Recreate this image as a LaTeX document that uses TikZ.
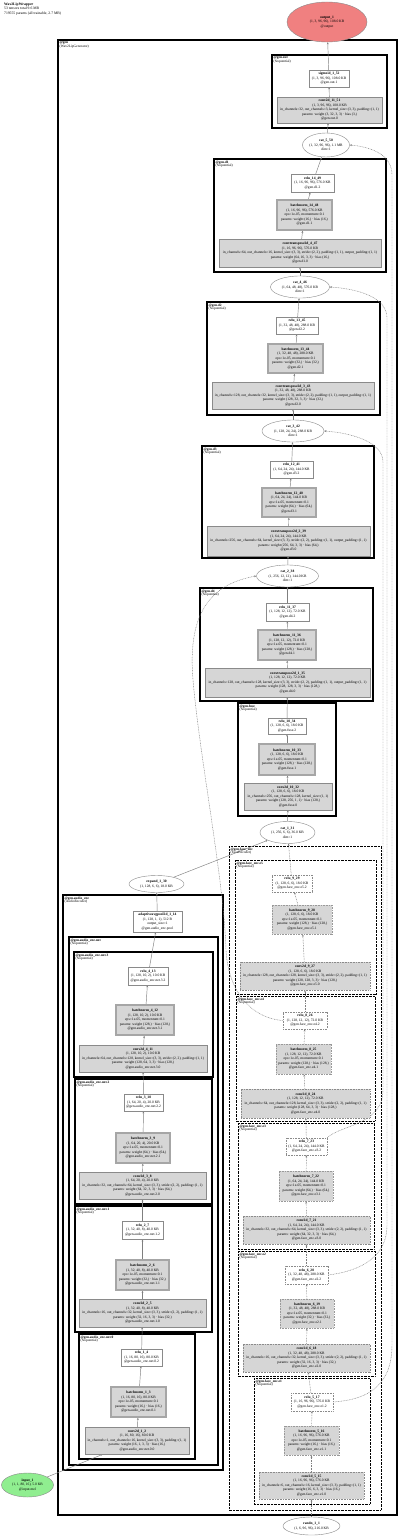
\documentclass[tikz,border=0pt]{standalone}
\usepackage{fontspec}
\setmainfont{Liberation Serif}
\usetikzlibrary{shapes.geometric,arrows.meta}
\definecolor{edgec}{HTML}{7F7F7F}
\definecolor{nodeb}{HTML}{8A8A8A}
\definecolor{opfill}{HTML}{D6D6D6}
\definecolor{outfill}{HTML}{F08080}
\definecolor{infill}{HTML}{90EE90}
\newcommand\fs{\fontsize{3.6}{4.5}\selectfont}
\newcommand\zl[1]{\makebox[0pt]{#1}}
\newcommand\txtB[2]{\zl{\textbf{#1}}\\\zl{#2}}
\newcommand\txtC[3]{\zl{\textbf{#1}}\\\zl{#2}\\\zl{#3}}
\newcommand\txtD[4]{\zl{\textbf{#1}}\\\zl{#2}\\\zl{#3}\\\zl{#4}}
\newcommand\txtE[5]{\zl{\textbf{#1}}\\\zl{#2}\\\zl{#3}\\\zl{#4}\\\zl{#5}}
\pgfdeclarelayer{boxes}
\pgfdeclarelayer{wires}
\pgfsetlayers{boxes,wires,main}
\tikzset{
 nd/.style={rectangle, inner sep=0pt, align=center, font=\fs, draw=nodeb, line width=0.4pt},
 plainnd/.style={nd, fill=white},
 opnd/.style={nd, fill=opfill},
 bnnd/.style={nd, fill=opfill, draw=gray!70, line width=1.4pt},
 dt/.style={dash pattern=on 0.8pt off 0.8pt},
 dplain/.style={plainnd, dt},
 dop/.style={opnd, dt},
 dbn/.style={opnd, draw=gray!80, line width=0.9pt, dash pattern=on 0.9pt off 0.7pt},
 ell/.style={ellipse, inner sep=0pt, align=center, font=\fs, draw=nodeb, line width=0.4pt, fill=white},
 conn/.style={draw=edgec, line width=0.45pt, -{Stealth[length=2.2pt,width=1.8pt]}},
 skip/.style={conn, dt},
 mod/.style={draw=black, line width=1.2pt},
 dmod/.style={draw=black, line width=1pt, dash pattern=on 0.7pt off 0.7pt},
 modlab/.style={anchor=north west, inner sep=0.4pt, align=left, font=\fontsize{3.5}{3.9}\selectfont},
}
\begin{document}
\begin{tikzpicture}[x=1pt,y=-1pt]
\useasboundingbox (0,0) rectangle (400,1536);
\begin{pgfonlayer}{boxes}
\fill[white] (0,0) rectangle (400,1536);
\draw[mod] (58,40) rectangle (397,1515);
\draw[mod] (272,55) rectangle (387,128);
\draw[mod] (214,159) rectangle (386,272);
\draw[mod] (207,302) rectangle (380,415);
\draw[mod] (202,446) rectangle (374,558);
\draw[mod] (200,588) rectangle (373,701);
\draw[mod] (238,703) rectangle (336,816);
\draw[dmod] (229,846) rectangle (381,1510);
\draw[dmod] (235,860) rectangle (376,994);
\draw[dmod] (236,996) rectangle (375,1121);
\draw[dmod] (238,1123) rectangle (374,1249);
\draw[dmod] (238,1251) rectangle (375,1376);
\draw[dmod] (254,1378) rectangle (370,1504);
\draw[mod] (63,895) rectangle (223,1470);
\draw[mod] (69,937) rectangle (218,1465);
\draw[mod] (74,952) rectangle (213,1077);
\draw[mod] (75,1079) rectangle (212,1204);
\draw[mod] (75,1206) rectangle (212,1332);
\draw[mod] (79,1334) rectangle (195,1459);
\end{pgfonlayer}

% header
\node[anchor=north west, inner sep=0pt, align=left, font=\fontsize{3.7}{4.2}\selectfont] (hdr) at (4,3) {\textbf{Wav2LipWrapper}\\53 tensors total 9.6 MB\\719555 params (all trainable, 2.7 MB)};

% module labels
\node[modlab] (Lgen) at (59,41) {\textbf{@gen}\\(Wav2LipGenerator)};
\node[modlab] (Lout) at (273,56) {\textbf{@gen.out}\\(Sequential)};
\node[modlab] (Ld1) at (215,160) {\textbf{@gen.d1}\\(Sequential)};
\node[modlab] (Ld2) at (208,303) {\textbf{@gen.d2}\\(Sequential)};
\node[modlab] (Ld3) at (203,447) {\textbf{@gen.d3}\\(Sequential)};
\node[modlab] (Ld4) at (201,589) {\textbf{@gen.d4}\\(Sequential)};
\node[modlab] (Lfuse) at (239,704) {\textbf{@gen.fuse}\\(Sequential)};
\node[modlab] (Lface) at (230,847) {\textbf{@gen.face\_enc}\\(FaceEncoder)};
\node[modlab] (Le5) at (236,861) {\textbf{@gen.face\_enc.e5}\\(Sequential)};
\node[modlab] (Le4) at (237,997) {\textbf{@gen.face\_enc.e4}\\(Sequential)};
\node[modlab] (Le3) at (239,1124) {\textbf{@gen.face\_enc.e3}\\(Sequential)};
\node[modlab] (Le2) at (239,1252) {\textbf{@gen.face\_enc.e2}\\(Sequential)};
\node[modlab] (Le1) at (255,1379) {\textbf{@gen.face\_enc.e1}\\(Sequential)};
\node[modlab] (Laud) at (64,896) {\textbf{@gen.audio\_enc}\\(AudioEncoder)};
\node[modlab] (Lnet) at (70,938) {\textbf{@gen.audio\_enc.net}\\(Sequential)};
\node[modlab] (Ln3) at (75,953) {\textbf{@gen.audio\_enc.net.3}\\(Sequential)};
\node[modlab] (Ln2) at (76,1080) {\textbf{@gen.audio\_enc.net.2}\\(Sequential)};
\node[modlab] (Ln1) at (76,1207) {\textbf{@gen.audio\_enc.net.1}\\(Sequential)};
\node[modlab] (Ln0) at (80,1335) {\textbf{@gen.audio\_enc.net.0}\\(Sequential)};

% output side
\node[ell, fill=outfill, minimum width=80pt, minimum height=40pt] (out1) at (327,22) {\txtC{output\_1}{(1, 3, 96, 96), 108.0 KB}{@output}};
\node[plainnd, minimum width=40pt, minimum height=17pt] (sig) at (329,78.5) {\txtC{sigmoid\_1\_52}{(1, 3, 96, 96), 108.0 KB}{@gen.out.1}};
\node[opnd, minimum width=105pt, minimum height=26pt] (cv1151) at (329.5,110) {\txtE{conv2d\_11\_51}{(1, 3, 96, 96), 108.0 KB}{in\_channels=32, out\_channels=3, kernel\_size=(3, 3), padding=(1, 1)}{params: weight (3, 32, 3, 3) · bias (3,)}{@gen.out.0}};
\node[ell, minimum width=47pt, minimum height=24pt] (cat550) at (326,145) {\txtC{cat\_5\_50}{(1, 32, 96, 96), 1.1 MB}{dim=1}};

% d1
\node[plainnd, minimum width=43pt, minimum height=18pt] (r1449) at (312.5,183) {\txtC{relu\_14\_49}{(1, 16, 96, 96), 576.0 KB}{@gen.d1.2}};
\node[bnnd, minimum width=55pt, minimum height=30pt] (bn1448) at (304.5,215) {\txtE{batchnorm\_14\_48}{(1, 16, 96, 96), 576.0 KB}{eps=1e-05, momentum=0.1}{params: weight (16,) · bias (16,)}{@gen.d1.1}};
\node[opnd, minimum width=162pt, minimum height=28pt] (ct447) at (300,253) {\txtE{convtranspose2d\_4\_47}{(1, 16, 96, 96), 576.0 KB}{in\_channels=64, out\_channels=16, kernel\_size=(3, 3), stride=(2, 2), padding=(1, 1), output\_padding=(1, 1)}{params: weight (64, 16, 3, 3) · bias (16,)}{@gen.d1.0}};
\node[ell, minimum width=59pt, minimum height=22pt] (cat446) at (300,287) {\txtC{cat\_4\_46}{(1, 64, 48, 48), 576.0 KB}{dim=1}};

% d2
\node[plainnd, minimum width=42pt, minimum height=17pt] (r1345) at (297,325.5) {\txtC{relu\_13\_45}{(1, 32, 48, 48), 288.0 KB}{@gen.d2.2}};
\node[bnnd, minimum width=55pt, minimum height=29pt] (bn1344) at (295.5,358.5) {\txtE{batchnorm\_13\_44}{(1, 32, 48, 48), 288.0 KB}{eps=1e-05, momentum=0.1}{params: weight (32,) · bias (32,)}{@gen.d2.1}};
\node[opnd, minimum width=162pt, minimum height=27pt] (ct343) at (293,395.5) {\txtE{convtranspose2d\_3\_43}{(1, 32, 48, 48), 288.0 KB}{in\_channels=128, out\_channels=32, kernel\_size=(3, 3), stride=(2, 2), padding=(1, 1), output\_padding=(1, 1)}{params: weight (128, 32, 3, 3) · bias (32,)}{@gen.d2.0}};
\node[ell, minimum width=62pt, minimum height=22pt] (cat342) at (293,431) {\txtC{cat\_3\_42}{(1, 128, 24, 24), 288.0 KB}{dim=1}};

% d3
\node[plainnd, minimum width=43pt, minimum height=17pt] (r1241) at (291.5,469.5) {\txtC{relu\_12\_41}{(1, 64, 24, 24), 144.0 KB}{@gen.d3.2}};
\node[bnnd, minimum width=54pt, minimum height=29pt] (bn1240) at (289,502.5) {\txtE{batchnorm\_12\_40}{(1, 64, 24, 24), 144.0 KB}{eps=1e-05, momentum=0.1}{params: weight (64,) · bias (64,)}{@gen.d3.1}};
\node[opnd, minimum width=163pt, minimum height=30pt] (ct239) at (288.5,541) {\txtE{convtranspose2d\_2\_39}{(1, 64, 24, 24), 144.0 KB}{in\_channels=256, out\_channels=64, kernel\_size=(3, 3), stride=(2, 2), padding=(1, 1), output\_padding=(1, 1)}{params: weight (256, 64, 3, 3) · bias (64,)}{@gen.d3.0}};
\node[ell, minimum width=62pt, minimum height=22pt] (cat238) at (287.5,576) {\txtC{cat\_2\_38}{(1, 256, 12, 12), 144.0 KB}{dim=1}};

% d4
\node[plainnd, minimum width=43pt, minimum height=18pt] (r1137) at (287.5,612) {\txtC{relu\_11\_37}{(1, 128, 12, 12), 72.0 KB}{@gen.d4.2}};
\node[bnnd, minimum width=58pt, minimum height=30pt] (bn1136) at (287,645) {\txtE{batchnorm\_11\_36}{(1, 128, 12, 12), 72.0 KB}{eps=1e-05, momentum=0.1}{params: weight (128,) · bias (128,)}{@gen.d4.1}};
\node[opnd, minimum width=165pt, minimum height=29pt] (ct135) at (287.5,682.5) {\txtE{convtranspose2d\_1\_35}{(1, 128, 12, 12), 72.0 KB}{in\_channels=128, out\_channels=128, kernel\_size=(3, 3), stride=(2, 2), padding=(1, 1), output\_padding=(1, 1)}{params: weight (128, 128, 3, 3) · bias (128,)}{@gen.d4.0}};

% fuse
\node[plainnd, minimum width=38pt, minimum height=16pt] (r1034) at (287,726) {\txtC{relu\_10\_34}{(1, 128, 6, 6), 18.0 KB}{@gen.fuse.2}};
\node[bnnd, minimum width=56pt, minimum height=31pt] (bn1033) at (287,759.5) {\txtE{batchnorm\_10\_33}{(1, 128, 6, 6), 18.0 KB}{eps=1e-05, momentum=0.1}{params: weight (128,) · bias (128,)}{@gen.fuse.1}};
\node[opnd, minimum width=88pt, minimum height=27pt] (cv1032) at (288,796.5) {\txtE{conv2d\_10\_32}{(1, 128, 6, 6), 18.0 KB}{in\_channels=256, out\_channels=128, kernel\_size=(1, 1)}{params: weight (128, 256, 1, 1) · bias (128,)}{@gen.fuse.0}};
\node[ell, minimum width=55pt, minimum height=22pt] (cat131) at (287.5,832.5) {\txtC{cat\_1\_31}{(1, 256, 6, 6), 36.0 KB}{dim=1}};
\node[ell, minimum width=55pt, minimum height=17pt] (exp130) at (156.5,884) {\txtB{expand\_1\_30}{(1, 128, 6, 6), 18.0 KB}};

% audio encoder
\node[plainnd, minimum width=49pt, minimum height=21pt] (pool) at (157.5,921.5) {\txtD{adaptiveavgpool2d\_1\_14}{(1, 128, 1, 1), 512 B}{output\_size=1}{@gen.audio\_enc.pool}};
\node[plainnd, minimum width=40pt, minimum height=18pt] (r413) at (148,976) {\txtC{relu\_4\_13}{(1, 128, 10, 2), 10.0 KB}{@gen.audio\_enc.net.3.2}};
\node[bnnd, minimum width=58pt, minimum height=30pt] (bn412) at (145,1020) {\txtE{batchnorm\_4\_12}{(1, 128, 10, 2), 10.0 KB}{eps=1e-05, momentum=0.1}{params: weight (128,) · bias (128,)}{@gen.audio\_enc.net.3.1}};
\node[opnd, minimum width=128pt, minimum height=27pt] (cv411) at (143,1058.5) {\txtE{conv2d\_4\_11}{(1, 128, 10, 2), 10.0 KB}{in\_channels=64, out\_channels=128, kernel\_size=(3, 3), stride=(2, 2), padding=(1, 1)}{params: weight (128, 64, 3, 3) · bias (128,)}{@gen.audio\_enc.net.3.0}};
\node[plainnd, minimum width=39pt, minimum height=17pt] (r310) at (143.5,1102.5) {\txtC{relu\_3\_10}{(1, 64, 20, 4), 20.0 KB}{@gen.audio\_enc.net.2.2}};
\node[bnnd, minimum width=54pt, minimum height=30pt] (bn39) at (143,1148) {\txtE{batchnorm\_3\_9}{(1, 64, 20, 4), 20.0 KB}{eps=1e-05, momentum=0.1}{params: weight (64,) · bias (64,)}{@gen.audio\_enc.net.2.1}};
\node[opnd, minimum width=127pt, minimum height=27pt] (cv38) at (142.5,1185.5) {\txtE{conv2d\_3\_8}{(1, 64, 20, 4), 20.0 KB}{in\_channels=32, out\_channels=64, kernel\_size=(3, 3), stride=(2, 2), padding=(1, 1)}{params: weight (64, 32, 3, 3) · bias (64,)}{@gen.audio\_enc.net.2.0}};
\node[plainnd, minimum width=41pt, minimum height=18pt] (r27) at (142.5,1230) {\txtC{relu\_2\_7}{(1, 32, 40, 8), 40.0 KB}{@gen.audio\_enc.net.1.2}};
\node[bnnd, minimum width=53pt, minimum height=30pt] (bn26) at (142.5,1275) {\txtE{batchnorm\_2\_6}{(1, 32, 40, 8), 40.0 KB}{eps=1e-05, momentum=0.1}{params: weight (32,) · bias (32,)}{@gen.audio\_enc.net.1.1}};
\node[opnd, minimum width=127pt, minimum height=28pt] (cv25) at (142.5,1313) {\txtE{conv2d\_2\_5}{(1, 32, 40, 8), 40.0 KB}{in\_channels=16, out\_channels=32, kernel\_size=(3, 3), stride=(2, 2), padding=(1, 1)}{params: weight (32, 16, 3, 3) · bias (32,)}{@gen.audio\_enc.net.1.0}};
\node[plainnd, minimum width=41pt, minimum height=17pt] (r14) at (141.5,1357.5) {\txtC{relu\_1\_4}{(1, 16, 80, 16), 80.0 KB}{@gen.audio\_enc.net.0.2}};
\node[bnnd, minimum width=55pt, minimum height=30pt] (bn13) at (138.5,1402) {\txtE{batchnorm\_1\_3}{(1, 16, 80, 16), 80.0 KB}{eps=1e-05, momentum=0.1}{params: weight (16,) · bias (16,)}{@gen.audio\_enc.net.0.1}};
\node[opnd, minimum width=104pt, minimum height=27pt] (cv12) at (137,1440.5) {\txtE{conv2d\_1\_2}{(1, 16, 80, 16), 80.0 KB}{in\_channels=1, out\_channels=16, kernel\_size=(3, 3), padding=(1, 1)}{params: weight (16, 1, 3, 3) · bias (16,)}{@gen.audio\_enc.net.0.0}};
\node[ell, fill=infill, minimum width=52pt, minimum height=24pt] (in1) at (27.5,1485) {\txtC{input\_1}{(1, 1, 80, 16), 5.0 KB}{@input.mel}};

% face encoder
\node[dplain, minimum width=40pt, minimum height=17pt] (r929) at (292,883.5) {\txtC{relu\_9\_29}{(1, 128, 6, 6), 18.0 KB}{@gen.face\_enc.e5.2}};
\node[dbn, minimum width=60pt, minimum height=29pt] (bn928) at (302,919.5) {\txtE{batchnorm\_9\_28}{(1, 128, 6, 6), 18.0 KB}{eps=1e-05, momentum=0.1}{params: weight (128,) · bias (128,)}{@gen.face\_enc.e5.1}};
\node[dop, minimum width=130pt, minimum height=28pt] (cv927) at (305,976) {\txtE{conv2d\_9\_27}{(1, 128, 6, 6), 18.0 KB}{in\_channels=128, out\_channels=128, kernel\_size=(3, 3), stride=(2, 2), padding=(1, 1)}{params: weight (128, 128, 3, 3) · bias (128,)}{@gen.face\_enc.e5.0}};
\node[dplain, minimum width=44pt, minimum height=17pt] (r826) at (305,1020.5) {\txtC{relu\_8\_26}{(1, 128, 12, 12), 72.0 KB}{@gen.face\_enc.e4.2}};
\node[dbn, minimum width=55pt, minimum height=30pt] (bn825) at (303.5,1059) {\txtE{batchnorm\_8\_25}{(1, 128, 12, 12), 72.0 KB}{eps=1e-05, momentum=0.1}{params: weight (128,) · bias (128,)}{@gen.face\_enc.e4.1}};
\node[dop, minimum width=129pt, minimum height=29pt] (cv824) at (305.5,1103.5) {\txtE{conv2d\_8\_24}{(1, 128, 12, 12), 72.0 KB}{in\_channels=64, out\_channels=128, kernel\_size=(3, 3), stride=(2, 2), padding=(1, 1)}{params: weight (128, 64, 3, 3) · bias (128,)}{@gen.face\_enc.e4.0}};
\node[dplain, minimum width=41pt, minimum height=17pt] (r723) at (306.5,1146.5) {\txtC{relu\_7\_23}{(1, 64, 24, 24), 144.0 KB}{@gen.face\_enc.e3.2}};
\node[dbn, minimum width=54pt, minimum height=30pt] (bn722) at (306,1186) {\txtE{batchnorm\_7\_22}{(1, 64, 24, 24), 144.0 KB}{eps=1e-05, momentum=0.1}{params: weight (64,) · bias (64,)}{@gen.face\_enc.e3.1}};
\node[dop, minimum width=127pt, minimum height=28pt] (cv721) at (306.5,1230) {\txtE{conv2d\_7\_21}{(1, 64, 24, 24), 144.0 KB}{in\_channels=32, out\_channels=64, kernel\_size=(3, 3), stride=(2, 2), padding=(1, 1)}{params: weight (64, 32, 3, 3) · bias (64,)}{@gen.face\_enc.e3.0}};
\node[dplain, minimum width=43pt, minimum height=18pt] (r620) at (306.5,1275) {\txtC{relu\_6\_20}{(1, 32, 48, 48), 288.0 KB}{@gen.face\_enc.e2.2}};
\node[dbn, minimum width=54pt, minimum height=29pt] (bn619) at (307,1313.5) {\txtE{batchnorm\_6\_19}{(1, 32, 48, 48), 288.0 KB}{eps=1e-05, momentum=0.1}{params: weight (32,) · bias (32,)}{@gen.face\_enc.e2.1}};
\node[dop, minimum width=127pt, minimum height=28pt] (cv618) at (306.5,1358) {\txtE{conv2d\_6\_18}{(1, 32, 48, 48), 288.0 KB}{in\_channels=16, out\_channels=32, kernel\_size=(3, 3), stride=(2, 2), padding=(1, 1)}{params: weight (32, 16, 3, 3) · bias (32,)}{@gen.face\_enc.e2.0}};
\node[dplain, minimum width=42pt, minimum height=18pt] (r517) at (312,1402) {\txtC{relu\_5\_17}{(1, 16, 96, 96), 576.0 KB}{@gen.face\_enc.e1.2}};
\node[dbn, minimum width=55pt, minimum height=29pt] (bn516) at (311.5,1440.5) {\txtE{batchnorm\_5\_16}{(1, 16, 96, 96), 576.0 KB}{eps=1e-05, momentum=0.1}{params: weight (16,) · bias (16,)}{@gen.face\_enc.e1.1}};
\node[dop, minimum width=105pt, minimum height=27pt] (cv515) at (311.5,1485.5) {\txtE{conv2d\_5\_15}{(1, 16, 96, 96), 576.0 KB}{in\_channels=6, out\_channels=16, kernel\_size=(3, 3), padding=(1, 1)}{params: weight (16, 6, 3, 3) · bias (16,)}{@gen.face\_enc.e1.0}};
\node[ell, minimum width=57pt, minimum height=18pt] (randn) at (311.5,1526) {\txtB{randn\_1\_1}{(1, 6, 96, 96), 216.0 KB}};

\begin{pgfonlayer}{wires}
\draw[conn] (in1) -- ([xshift=-34pt]cv12.south);
\foreach \a/\b in {cv12/bn13, bn13/r14, r14/cv25, cv25/bn26, bn26/r27, r27/cv38, cv38/bn39, bn39/r310, r310/cv411, cv411/bn412, bn412/r413, r413/pool, pool/exp130, exp130/cat131,
  cat131/cv1032, cv1032/bn1033, bn1033/r1034, r1034/ct135, ct135/bn1136, bn1136/r1137, r1137/cat238, cat238/ct239, ct239/bn1240, bn1240/r1241, r1241/cat342, cat342/ct343, ct343/bn1344, bn1344/r1345, r1345/cat446, cat446/ct447, ct447/bn1448, bn1448/r1449, r1449/cat550, cat550/cv1151, cv1151/sig, sig/out1}
  \draw[conn] (\a) -- (\b);
\foreach \a/\b in {randn/cv515, cv515/bn516, bn516/r517, r517/cv618, cv618/bn619, bn619/r620, r620/cv721, cv721/bn722, bn722/r723, r723/cv824, cv824/bn825, bn825/r826, r826/cv927, cv927/bn928, bn928/r929, r929/cat131}
  \draw[skip] (\a) -- (\b);
\draw[skip] (r517.east) .. controls (362,1400) and (392,1390) .. (392,1345) -- (392,175) .. controls (392,155) and (372,147) .. (cat550.east);
\draw[skip] (r620.east) .. controls (352,1272) and (387,1262) .. (387,1225) -- (387,318) .. controls (387,298) and (360,289) .. (cat446.east);
\draw[skip] (r723.north east) .. controls (340,1125) and (383,1125) .. (383,1090) -- (383,462) .. controls (383,442) and (352,433) .. (cat342.east);
\draw[skip] (r826.west) .. controls (250,1018) and (228,990) .. (226,950) .. controls (224,880) and (200,760) .. (193,680) .. controls (188,620) and (205,585) .. (cat238.west);
\end{pgfonlayer}
\end{tikzpicture}
\end{document}
